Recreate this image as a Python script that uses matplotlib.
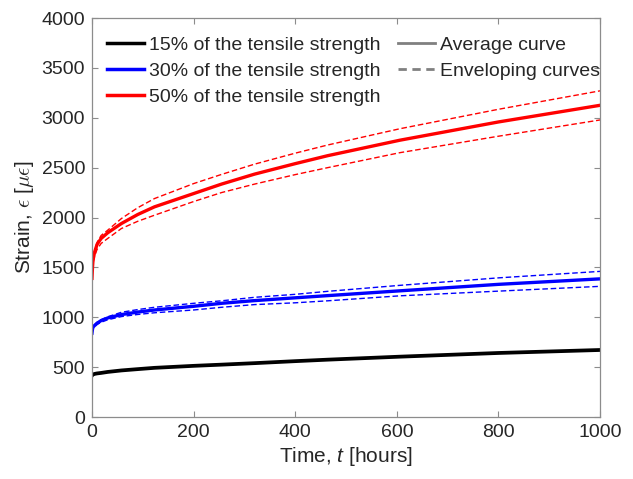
import numpy as np
import matplotlib
matplotlib.use("Agg")
from matplotlib import pyplot as plt
from matplotlib.lines import Line2D

plt.rcParams["font.family"] = ["Liberation Sans", "DejaVu Sans"]
plt.rcParams["mathtext.fontset"] = "custom"
plt.rcParams["mathtext.it"] = "Liberation Sans:italic"
plt.rcParams["mathtext.rm"] = "Liberation Sans"

# creep strain vs time for three load levels (average + enveloping curves)
t_hours = [0, 1, 2, 5, 10, 18, 31, 58, 90, 123, 200, 255, 320, 400, 464, 606, 800, 1000]

strain_15_avg = [415, 422, 426, 432, 437, 442, 452, 467, 480, 493, 513, 525, 540, 560, 575, 605, 642, 672]

strain_30_avg = [840, 880, 900, 917, 940, 967, 993, 1027, 1052, 1073, 1110, 1140, 1167, 1195, 1217, 1265, 1330, 1385]
strain_30_up = [840, 885, 905, 925, 950, 975, 1005, 1050, 1077, 1100, 1140, 1165, 1200, 1230, 1260, 1320, 1395, 1460]
strain_30_lo = [840, 875, 890, 905, 928, 950, 975, 1007, 1028, 1045, 1073, 1100, 1127, 1145, 1165, 1215, 1262, 1310]

strain_50_avg = [1390, 1500, 1570, 1650, 1730, 1790, 1847, 1940, 2030, 2107, 2240, 2335, 2435, 2540, 2620, 2775, 2958, 3125]
strain_50_up = [1390, 1500, 1570, 1660, 1750, 1820, 1873, 1990, 2098, 2190, 2340, 2432, 2535, 2645, 2727, 2890, 3085, 3270]
strain_50_lo = [1390, 1480, 1540, 1610, 1680, 1740, 1790, 1890, 1962, 2023, 2160, 2250, 2335, 2430, 2500, 2650, 2815, 2978]

labels_load = ["15% of the tensile strength", "30% of the tensile strength", "50% of the tensile strength"]
labels_kind = ["Average curve", "Enveloping curves"]


def main():
    fig = plt.figure(figsize=(6.33, 4.79), dpi=100)
    ax = fig.add_axes([0.1453, 0.1294, 0.8027, 0.833])

    t = np.array(t_hours)
    lw_avg, lw_env = 2.4, 1.0
    dash = (4, 2)

    ax.plot(t, strain_15_avg, color="k", lw=lw_avg + 0.3)

    ax.plot(t, strain_30_up, color="b", lw=lw_env, dashes=dash)
    ax.plot(t, strain_30_lo, color="b", lw=lw_env, dashes=dash)
    ax.plot(t, strain_30_avg, color="b", lw=lw_avg)

    ax.plot(t, strain_50_up, color="r", lw=lw_env, dashes=dash)
    ax.plot(t, strain_50_lo, color="r", lw=lw_env, dashes=dash)
    ax.plot(t, strain_50_avg, color="r", lw=lw_avg)

    ax.set_xlim(0, 1000)
    ax.set_ylim(0, 4000)
    ax.set_xticks(np.arange(0, 1001, 200))
    ax.set_yticks(np.arange(0, 4001, 500))

    for s in ax.spines.values():
        s.set_color("#8c8c8c")
        s.set_linewidth(0.9)
    ax.tick_params(direction="in", length=4, width=0.8, color="#8c8c8c",
                   labelcolor="#262626", labelsize=14, top=True, right=True, pad=5)

    ax.set_xlabel("Time, $t$ [hours]", fontsize=15, color="#262626", labelpad=3)
    # greek symbols in a serif math font, like a TeX interpreter would give
    ax.set_ylabel("Strain, $\\epsilon$ [$\\mu\\epsilon$]", fontsize=15, color="#262626",
                  labelpad=4, math_fontfamily="cm")

    # legend 1: load levels
    h1 = [Line2D([], [], color=c, lw=2.5) for c in ("k", "b", "r")]
    leg1 = ax.legend(h1, labels_load, loc="upper left", bbox_to_anchor=(0.03, 0.955),
                     frameon=False, fontsize=14, handlelength=1.9, handletextpad=0.25,
                     labelspacing=0.45, borderpad=0, borderaxespad=0)
    for txt in leg1.get_texts():
        txt.set_color("#262626")
    ax.add_artist(leg1)

    # legend 2: curve type
    h2 = [Line2D([], [], color="#808080", lw=2.0),
          Line2D([], [], color="#808080", lw=2.0, dashes=(3, 2))]
    leg2 = ax.legend(h2, labels_kind, loc="upper left", bbox_to_anchor=(0.602, 0.955),
                     frameon=False, fontsize=14, handlelength=1.9, handletextpad=0.25,
                     labelspacing=0.45, borderpad=0, borderaxespad=0)
    for txt in leg2.get_texts():
        txt.set_color("#262626")

    fig.savefig("out.png", dpi=100)


if __name__ == "__main__":
    main()
